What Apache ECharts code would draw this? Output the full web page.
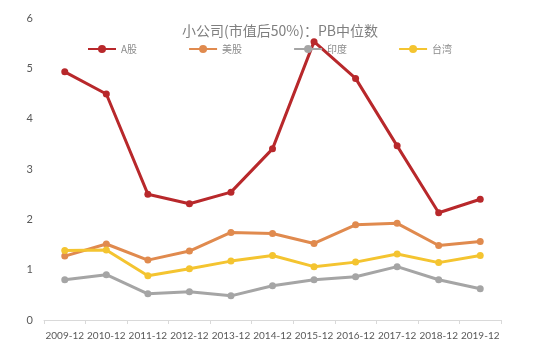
<!DOCTYPE html>
<html>
<head>
<meta charset="utf-8">
<script src="https://cdn.jsdelivr.net/npm/echarts@6/dist/echarts.min.js"></script>
<style>
  html, body { margin: 0; padding: 0; background: #fff; }
  #chart { width: 550px; height: 352px; }
</style>
</head>
<body>
<div id="chart"></div>
<script>
// 年份
var years = ['2009-12', '2010-12', '2011-12', '2012-12', '2013-12', '2014-12', '2015-12', '2016-12', '2017-12', '2018-12', '2019-12'];

// PB中位数
var aShare = [4.93, 4.49, 2.50, 2.31, 2.54, 3.40, 5.53, 4.80, 3.46, 2.13, 2.40];
var usShare = [1.27, 1.51, 1.19, 1.37, 1.74, 1.72, 1.52, 1.89, 1.92, 1.48, 1.56];
var india = [0.80, 0.90, 0.52, 0.56, 0.48, 0.68, 0.80, 0.86, 1.06, 0.80, 0.62];
var taiwan = [1.38, 1.39, 0.88, 1.02, 1.17, 1.28, 1.06, 1.15, 1.31, 1.14, 1.28];

var names = ['A股', '美股', '印度', '台湾'];
var colors = ['#B8282B', '#E08A4E', '#A5A5A5', '#F4C430'];

(function () {
    var chart = echarts.init(document.getElementById('chart'));

    function line(name, data, color) {
        return {
            name: name,
            type: 'line',
            data: data,
            symbol: 'circle',
            symbolSize: 7,
            lineStyle: {width: 3, color: color},
            itemStyle: {color: color}
        };
    }

    var option = {
        animation: false,
        title: {
            text: '小公司(市值后50%)：PB中位数',
            left: 275,
            textAlign: 'center',
            top: 19,
            textStyle: {
                fontSize: 14,
                fontWeight: 'normal',
                color: '#7f7f7f',
                fontFamily: 'Noto Sans CJK SC'
            }
        },
        legend: {
            left: 82,
            top: 39,
            itemWidth: 28,
            itemHeight: 10,
            itemGap: 51,
            data: names,
            textStyle: {width: 30, fontSize: 10, color: '#8c8c8c', fontFamily: 'Noto Sans CJK SC'}
        },
        grid: {left: 44, right: 49, top: 18, bottom: 32},
        xAxis: {
            type: 'category',
            data: years,
            axisLine: {lineStyle: {color: '#d9d9d9'}},
            axisTick: {show: true, length: 4, lineStyle: {color: '#d9d9d9'}},
            axisLabel: {
                interval: 0,
                fontSize: 10,
                color: '#595959',
                margin: 11,
                fontFamily: 'Lato'
            }
        },
        yAxis: {
            type: 'value',
            min: 0,
            max: 6,
            interval: 1,
            axisLine: {show: false},
            axisTick: {show: false},
            splitLine: {show: false},
            axisLabel: {fontSize: 11, color: '#595959', margin: 11, fontFamily: 'Lato'}
        },
        series: [
            line(names[0], aShare, colors[0]),
            line(names[1], usShare, colors[1]),
            line(names[2], india, colors[2]),
            line(names[3], taiwan, colors[3])
        ]
    };

    chart.setOption(option);
})();
</script>
</body>
</html>
